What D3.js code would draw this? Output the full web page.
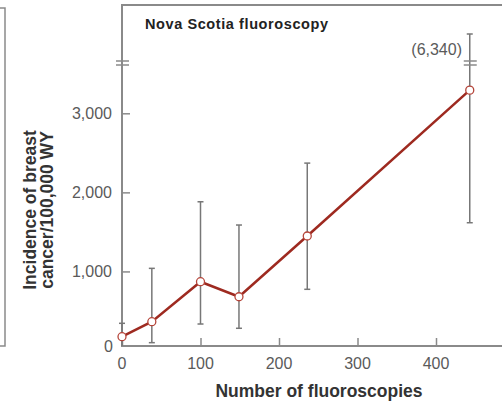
<!DOCTYPE html>
<html>
<head>
<meta charset="utf-8">
<script src="https://cdn.jsdelivr.net/npm/d3@7"></script>
<style>
  body { margin: 0; background: #fff; }
  svg { display: block; font-family: "Liberation Sans", Arial, sans-serif; }
</style>
</head>
<body>
<svg id="chart"></svg>
<script>
// fluoroscopy counts and incidence (per 100,000 WY)
const doses = [0, 38, 100, 149, 236, 443];
const incidence = [175, 364, 870, 680, 1448, 3293];
const lowerCI = [0, 99, 335, 281, 774, 1616];
const upperCI = [344, 1039, 1881, 1587, 2370, 6340];
const xTicks = [0, 100, 200, 300, 400];
const yTicks = [1000, 2000, 3000];

const width = 502, height = 403;
const svg = d3.select('#chart')
    .attr('width', width)
    .attr('height', height);

const x = d3.scaleLinear().domain([0, 400]).range([122, 436]);
const y = d3.scaleLinear().domain([0, 3000]).range([350.5, 113.3]);
const axisY = 346, topY = 5, breakY = 63, capTop = 34;

const grey = '#8a8a8a';
const tickFont = 16;

// edge of the neighbouring panel
svg.append('path')
    .attr('d', 'M0,8H5V346H0')
    .attr('fill', 'none').attr('stroke', grey).attr('stroke-width', 1.5);

// frame: top border, y axis, x axis
svg.append('path')
    .attr('d', `M${width},${topY}H${x(0)}V${axisY}H${width}`)
    .attr('fill', 'none').attr('stroke', grey).attr('stroke-width', 2);

// y ticks
const yAxis = svg.append('g')
    .attr('transform', `translate(${x(0)},0)`)
    .call(d3.axisRight(y).tickValues(yTicks).tickSize(8).tickFormat(''));
yAxis.select('.domain').remove();
yAxis.selectAll('line').attr('stroke', grey).attr('stroke-width', 1.5);

svg.selectAll('.ylab')
    .data(yTicks)
    .join('text')
    .attr('x', 112).attr('y', d => y(d))
    .attr('dy', '0.36em').attr('text-anchor', 'end')
    .attr('font-size', tickFont).attr('fill', '#5a5a5a')
    .text(d3.format(','));
svg.append('text')
    .attr('x', 113).attr('y', axisY)
    .attr('dy', '0.36em').attr('text-anchor', 'end')
    .attr('font-size', tickFont).attr('fill', '#5a5a5a')
    .text('0');

// x ticks
const xAxis = svg.append('g')
    .attr('transform', `translate(0,${axisY})`)
    .call(d3.axisTop(x).tickValues(xTicks).tickSize(8).tickFormat(''));
xAxis.select('.domain').remove();
xAxis.selectAll('line').attr('stroke', grey).attr('stroke-width', 1.5);
svg.selectAll('.xlab')
    .data(xTicks)
    .join('text')
    .attr('x', d => x(d)).attr('y', 363)
    .attr('dy', '0.36em').attr('text-anchor', 'middle')
    .attr('font-size', tickFont).attr('fill', '#5a5a5a')
    .text(d => d);

// axis break marks
function breakMark(cx) {
    [-2, 2].forEach(o => {
        svg.append('line')
            .attr('x1', cx - 6).attr('x2', cx + 7)
            .attr('y1', breakY + o).attr('y2', breakY + o)
            .attr('stroke', grey).attr('stroke-width', 1.5);
    });
}
breakMark(x(0));

// error bars
const rows = doses.map((d, i) => ({ d, v: incidence[i], lo: lowerCI[i], hi: upperCI[i] }));
const eb = svg.append('g').attr('stroke', '#777').attr('stroke-width', 1.5);
rows.forEach(r => {
    const top = r.hi > 4000 ? capTop : y(r.hi);
    const bot = r.lo === 0 ? axisY : y(r.lo);
    eb.append('line').attr('x1', x(r.d)).attr('x2', x(r.d)).attr('y1', top).attr('y2', bot);
    eb.append('line').attr('x1', x(r.d) - 3).attr('x2', x(r.d) + 3).attr('y1', top).attr('y2', top);
    if (r.lo > 0) eb.append('line').attr('x1', x(r.d) - 3).attr('x2', x(r.d) + 3).attr('y1', bot).attr('y2', bot);
});
breakMark(x(doses[doses.length - 1]));
svg.append('text')
    .attr('x', 462).attr('y', 49)
    .attr('dy', '0.36em').attr('text-anchor', 'end')
    .attr('font-size', tickFont).attr('fill', '#5a5a5a')
    .text('(6,340)');

// line and points
svg.append('path')
    .datum(rows)
    .attr('d', d3.line().x(r => x(r.d)).y(r => y(r.v)))
    .attr('fill', 'none').attr('stroke', '#9e2a20').attr('stroke-width', 2.5);
svg.selectAll('.pt')
    .data(rows)
    .join('circle')
    .attr('cx', r => x(r.d)).attr('cy', r => y(r.v)).attr('r', 4)
    .attr('fill', '#fff').attr('stroke', '#b5453a').attr('stroke-width', 1.3);

// titles
svg.append('text')
    .attr('x', 145).attr('y', 29)
    .attr('font-size', 14.5).attr('font-weight', 'bold').attr('fill', '#222')
    .attr('textLength', 183)
    .text('Nova Scotia fluoroscopy');
svg.append('text')
    .attr('x', 319).attr('y', 397)
    .attr('text-anchor', 'middle')
    .attr('font-size', 17.5).attr('font-weight', 'bold').attr('fill', '#333')
    .text('Number of fluoroscopies');
const yt = svg.append('text')
    .attr('transform', 'translate(0,210) rotate(-90)')
    .attr('text-anchor', 'middle')
    .attr('font-size', 17.5).attr('font-weight', 'bold').attr('fill', '#333');
yt.append('tspan').attr('x', 0).attr('y', 36).text('Incidence of breast');
yt.append('tspan').attr('x', 0).attr('y', 53).text('cancer/100,000 WY');
</script>
</body>
</html>
